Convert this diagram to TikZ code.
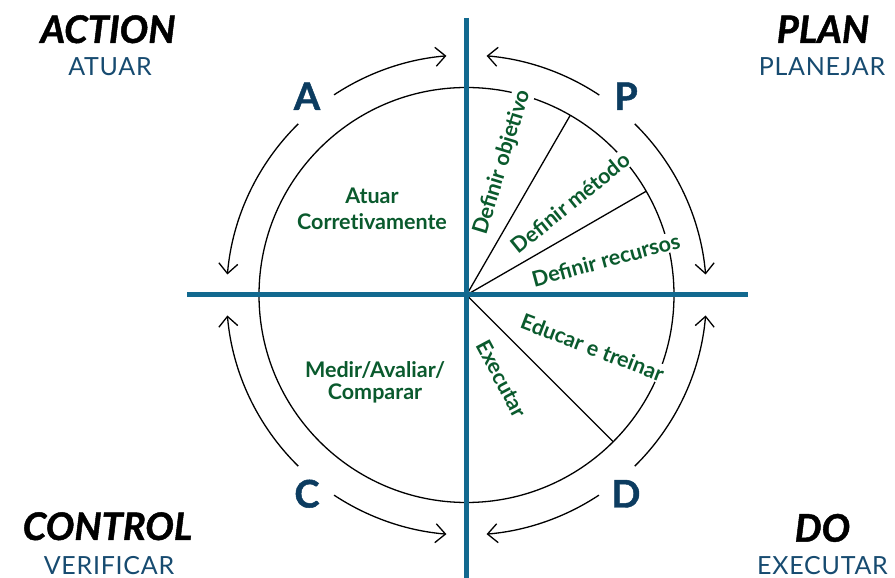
\documentclass[tikz,border=0pt]{standalone}
\usepackage{fontspec}
\setmainfont{Lato}
\newfontfamily\heavyital{Lato}[FakeBold=1.2]
\newfontfamily\widesub{Lato}[LetterSpace=3]
\usetikzlibrary{arrows.meta,calc}
\definecolor{axisblue}{RGB}{18,105,143}
\definecolor{navy}{RGB}{12,60,96}
\definecolor{subblue}{RGB}{23,75,112}
\definecolor{dgreen}{RGB}{10,90,45}
\tikzset{
  axisline/.style={axisblue,line width=5pt},
  thinline/.style={black,line width=1.3pt},
  cyclearc/.style={black,line width=1.3pt,arrows={-Straight Barb[length=10pt,width=19pt]}},
  cyclearcrev/.style={black,line width=1.3pt,arrows={Straight Barb[length=10pt,width=19pt]-}},
  titletext/.style={font=\fontsize{38}{42}\selectfont\heavyital\bfseries\itshape,anchor=base,inner sep=0pt},
  subtext/.style={font=\fontsize{25}{28}\selectfont\widesub,text=subblue,anchor=base,inner sep=0pt},
  letter/.style={font=\fontsize{38}{40}\selectfont\heavyital\bfseries,text=navy,anchor=base,inner sep=0pt},
  steplabel/.style={font=\fontsize{21.5}{24}\selectfont\bfseries,text=dgreen,fill=white,inner sep=1.5pt},
  phaselabel/.style={font=\bfseries,text=dgreen,align=center,inner sep=0pt}
}
\begin{document}
\begin{tikzpicture}[x=1pt,y=1pt]
\useasboundingbox (0,0) rectangle (895,578);
\coordinate (c) at (466.5,283);
% inner circle
\draw[thinline] (c) circle[radius=207.5];
% outer arcs
\draw[cyclearcrev] ($(c)+(85.2:240)$) arc[start angle=85.2,end angle=56.4,radius=240];
\draw[cyclearc] ($(c)+(45.5:240)$) arc[start angle=45.5,end angle=4.9,radius=240];
\draw[cyclearcrev] ($(c)+(94.8:240)$) arc[start angle=94.8,end angle=123.5,radius=240];
\draw[cyclearc] ($(c)+(134.5:240)$) arc[start angle=134.5,end angle=175.1,radius=240];
\draw[cyclearcrev] ($(c)+(184.9:240)$) arc[start angle=184.9,end angle=225.5,radius=240];
\draw[cyclearc] ($(c)+(236.5:240)$) arc[start angle=236.5,end angle=265.2,radius=240];
\draw[cyclearcrev] ($(c)+(274.8:240)$) arc[start angle=274.8,end angle=303.5,radius=240];
\draw[cyclearc] ($(c)+(314.5:240)$) arc[start angle=314.5,end angle=355.1,radius=240];
% step labels
\node[steplabel,rotate=73] (obj) at (502.4,415.6) {Definir objetivo};
\node[steplabel,rotate=39] (met) at (570.5,375.5) {Definir método};
\node[steplabel,rotate=15] (rec) at (605.8,318.2) {Definir recursos};
\node[steplabel,rotate=-21] (edu) at (592.5,230.5) {Educar e treinar};
\node[steplabel,rotate=-62] (exe) at (501.7,199) {Executar};
% rays
\coordinate (r1) at ($(c)+(60:207.5)$);
\coordinate (r2) at ($(c)+(30:207.5)$);
\coordinate (r3) at ($(c)+(-45:207.5)$);
\draw[thinline] (c) -- (r1);
\draw[thinline] (c) -- (r2);
\draw[thinline] (c) -- (r3);
% axes
\coordinate (vtop) at (466.5,560);
\coordinate (vbot) at (466.5,0);
\coordinate (hleft) at (187,283);
\coordinate (hright) at (748,283);
\draw[axisline] (vtop) -- (vbot);
\draw[axisline] (hleft) -- (hright);
% phase labels
\node[phaselabel,font=\fontsize{21.5}{25.5}\selectfont\bfseries] (atuar) at (372,369) {Atuar\\Corret\kern0pt ivamente};
\node[phaselabel,font=\fontsize{21.5}{21.5}\selectfont\bfseries] (medir) at (375,195.7) {Medir/Avaliar/\\Comparar};
% letters
\node[letter] (A) at (307,468) {A};
\node[letter] (P) at (626,468) {P};
\node[letter] (C) at (307,70.5) {C};
\node[letter] (D) at (626,70.5) {D};
% titles
\node[titletext] (action) at (108,535) {ACTION};
\node[subtext] (atuarT) at (110,502) {ATUAR};
\node[titletext] (plan) at (823,535) {PLAN};
\node[subtext] (planejar) at (822,502) {PLANEJAR};
\node[titletext] (control) at (107.5,38) {CONTROL};
\node[subtext] (verificar) at (109,3) {VERIFICAR};
\node[titletext] (do) at (822.5,36.3) {DO};
\node[subtext] (executar) at (822.5,3) {EXECUTAR};
\end{tikzpicture}
\end{document}
